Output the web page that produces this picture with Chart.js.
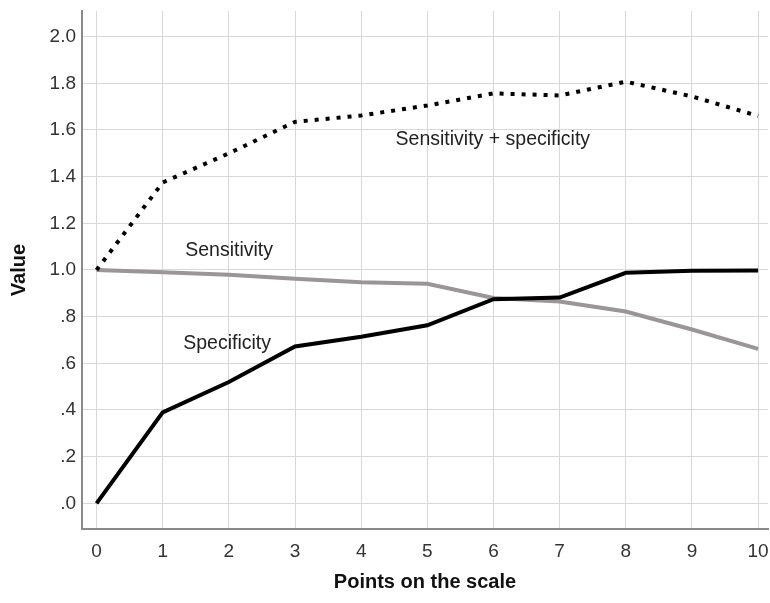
<!DOCTYPE html>
<html>
<head>
<meta charset="utf-8">
<script src="https://cdn.jsdelivr.net/npm/chart.js@4"></script>
<style>
  html, body { margin: 0; padding: 0; background: #fff; }
  #wrap { width: 770px; height: 603px; }
</style>
</head>
<body>
<div id="wrap"><canvas id="chart" width="770" height="603"></canvas></div>
<script>
// values
const points = [0, 1, 2, 3, 4, 5, 6, 7, 8, 9, 10];
const sensitivity = [1.0, 0.99, 0.98, 0.962, 0.948, 0.941, 0.88, 0.865, 0.822, 0.745, 0.662];
const specificity = [0.0, 0.39, 0.52, 0.672, 0.714, 0.763, 0.875, 0.882, 0.988, 0.997, 0.998];
const sensPlusSpec = [1.0, 1.375, 1.5, 1.635, 1.662, 1.705, 1.757, 1.748, 1.807, 1.744, 1.66];
const yTicks = [0, 0.2, 0.4, 0.6, 0.8, 1.0, 1.2, 1.4, 1.6, 1.8, 2.0];

// in-plot text labels: [text, x, y] in data units
const lineLabels = [
    ["Sensitivity + specificity", 4.52, 1.56],
    ["Sensitivity", 1.34, 1.085],
    ["Specificity", 1.31, 0.685]
];

const FONT = "'Liberation Sans', Arial, sans-serif";

const toXY = (vals) => vals.map((v, i) => ({ x: points[i], y: v }));

const labelPlugin = {
    id: "lineLabels",
    afterDatasetsDraw(chart) {
        const { ctx, scales } = chart;
        ctx.save();
        ctx.font = "19.5px " + FONT;
        ctx.fillStyle = "#222";
        ctx.textAlign = "left";
        ctx.textBaseline = "middle";
        lineLabels.forEach(([text, x, y]) => {
            ctx.fillText(text, scales.x.getPixelForValue(x), scales.y.getPixelForValue(y));
        });
        ctx.restore();
    }
};

new Chart(document.getElementById("chart"), {
    type: "line",
    data: {
        datasets: [
            {
                label: "Sensitivity + specificity",
                data: toXY(sensPlusSpec),
                borderColor: "#000",
                borderWidth: 4,
                borderDash: [4, 7],
                borderCapStyle: "butt"
            },
            {
                label: "Specificity",
                data: toXY(specificity),
                borderColor: "#000",
                borderWidth: 4
            },
            {
                label: "Sensitivity",
                data: toXY(sensitivity),
                borderColor: "#9b9598",
                borderWidth: 4
            }
        ]
    },
    options: {
        responsive: false,
        animation: false,
        layout: { padding: { top: 11, right: 2, left: 0, bottom: 0 } },
        elements: { point: { radius: 0 }, line: { tension: 0 } },
        plugins: { legend: { display: false }, tooltip: { enabled: false } },
        scales: {
            x: {
                type: "linear",
                min: -0.22,
                max: 10.15,
                afterFit(s) { s.height = 74; s.paddingLeft = 0; s.paddingRight = 0; },
                afterBuildTicks(s) { s.ticks = points.map(v => ({ value: v })); },
                grid: { color: "#d8d8d8", lineWidth: 1, drawTicks: false },
                border: { color: "#8a8a8a", width: 2 },
                ticks: { color: "#333", font: { family: FONT, size: 19 }, padding: 11 },
                title: {
                    display: true,
                    text: "Points on the scale",
                    color: "#111",
                    font: { family: FONT, size: 20, weight: "bold" },
                    padding: { top: 0, bottom: 9 }
                }
            },
            y: {
                min: -0.11,
                max: 2.11,
                afterFit(s) { s.width = 82; s.paddingTop = 0; s.paddingBottom = 0; },
                afterBuildTicks(s) { s.ticks = yTicks.map(v => ({ value: v })); },
                grid: { color: "#d8d8d8", lineWidth: 1, drawTicks: false },
                border: { color: "#8a8a8a", width: 2 },
                ticks: {
                    color: "#333",
                    font: { family: FONT, size: 19 },
                    padding: 6,
                    callback(v) {
                        const s = v.toFixed(1);
                        return v < 1 ? s.replace(/^0/, "") : s;
                    }
                },
                title: {
                    display: true,
                    text: "Value",
                    color: "#111",
                    font: { family: FONT, size: 20, weight: "bold" },
                    padding: { top: 7, bottom: 0 }
                }
            }
        }
    },
    plugins: [labelPlugin]
});
</script>
</body>
</html>
